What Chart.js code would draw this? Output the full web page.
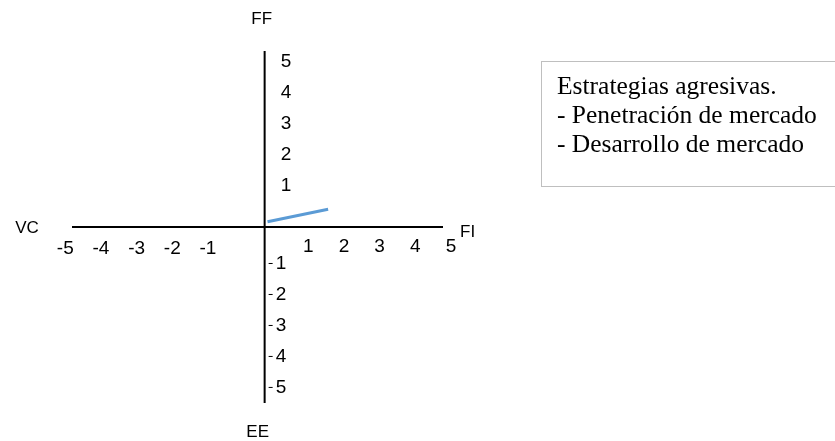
<!DOCTYPE html>
<html>
<head>
<meta charset="utf-8">
<script src="https://cdn.jsdelivr.net/npm/chart.js@4/dist/chart.umd.min.js"></script>
<style>
  html, body { margin: 0; padding: 0; background: #ffffff; }
  #wrap { position: relative; width: 835px; height: 441px; }
  canvas { display: block; }
</style>
</head>
<body>
<div id="wrap"><canvas id="c" width="835" height="441"></canvas></div>
<script>
// Strategic position line (FI on x, FF on y)
const lineX = [0.08, 1.78];
const lineY = [0.17, 0.57];

// Tick labels along each half-axis
const xNegTicks = [-5, -4, -3, -2, -1];
const xPosTicks = [1, 2, 3, 4, 5];
const yPosTicks = [1, 2, 3, 4, 5];
const yNegTicks = [-1, -2, -3, -4, -5];

// Axis end captions
const axisNames = { top: 'FF', bottom: 'EE', left: 'VC', right: 'FI' };

// Note box
const noteLines = ['Estrategias agresivas.', '- Penetración de mercado', '- Desarrollo de mercado'];

const SANS = '"Liberation Sans", Arial, sans-serif';
const SERIF = '"Liberation Serif", "Times New Roman", serif';

const crossAxes = {
  id: 'crossAxes',
  beforeDatasetsDraw(chart) {
    const { ctx, scales: { x, y } } = chart;
    const x0 = x.getPixelForValue(0);
    const y0 = y.getPixelForValue(0);
    ctx.save();
    ctx.strokeStyle = '#000000';
    ctx.lineWidth = 2;
    ctx.beginPath();
    ctx.moveTo(x.left, y0); ctx.lineTo(x.right, y0);
    ctx.moveTo(x0, y.top); ctx.lineTo(x0, y.bottom);
    ctx.stroke();

    ctx.fillStyle = '#000000';
    ctx.font = '19px ' + SANS;
    ctx.textBaseline = 'middle';
    ctx.textAlign = 'center';
    xNegTicks.forEach(v => ctx.fillText(String(v), x.getPixelForValue(v) - 21, y0 + 22));
    xPosTicks.forEach(v => ctx.fillText(String(v), x.getPixelForValue(v) + 8, y0 + 20));
    ctx.textAlign = 'left';
    yPosTicks.forEach(v => ctx.fillText(String(v), x0 + 16, y.getPixelForValue(v) - 10));
    yNegTicks.forEach(v => {
      const py = y.getPixelForValue(v) + 5;
      ctx.fillRect(x0 + 4, py, 4, 1);
      ctx.fillText(String(Math.abs(v)), x0 + 11, py + 1);
    });

    ctx.font = '17px ' + SANS;
    ctx.textAlign = 'center';
    ctx.fillText(axisNames.top, x0 - 3, 19);
    ctx.fillText(axisNames.bottom, x0 - 7, 432);
    ctx.fillText(axisNames.left, 27, y0 + 1);
    ctx.textAlign = 'left';
    ctx.fillText(axisNames.right, x.right + 17, y0 + 5);
    ctx.restore();
  },
  afterDraw(chart) {
    const { ctx } = chart;
    ctx.save();
    ctx.strokeStyle = '#bfbfbf';
    ctx.lineWidth = 1;
    ctx.strokeRect(541.5, 61.5, 310, 125);
    ctx.fillStyle = '#000000';
    ctx.font = '25.5px ' + SERIF;
    ctx.textAlign = 'left';
    ctx.textBaseline = 'alphabetic';
    noteLines.forEach((t, i) => ctx.fillText(t, 557, 94 + i * 29));
    ctx.restore();
  }
};

new Chart(document.getElementById('c'), {
  type: 'scatter',
  data: {
    datasets: [{
      data: lineX.map((v, i) => ({ x: v, y: lineY[i] })),
      showLine: true,
      borderColor: '#5b9bd5',
      borderWidth: 3,
      pointRadius: 0,
      pointHoverRadius: 0,
      fill: false
    }]
  },
  options: {
    responsive: false,
    animation: false,
    events: [],
    layout: { padding: { left: 72, right: 392, top: 51, bottom: 38 } },
    plugins: { legend: { display: false }, tooltip: { enabled: false } },
    scales: {
      x: { type: 'linear', min: -5.4, max: 5, display: false },
      y: { type: 'linear', min: -5.68, max: 5.68, display: false }
    }
  },
  plugins: [crossAxes]
});
</script>
</body>
</html>
